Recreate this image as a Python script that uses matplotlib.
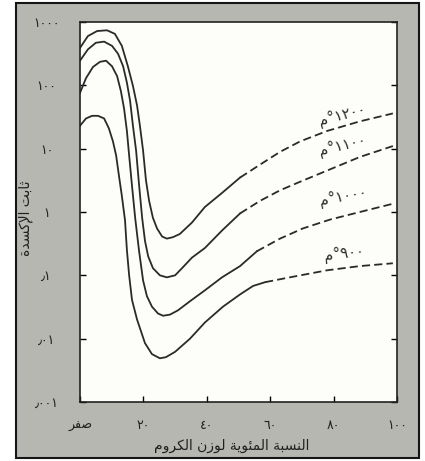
import numpy as np
import matplotlib
matplotlib.use('Agg')
import matplotlib.pyplot as plt
from matplotlib.patches import Rectangle

plt.rcParams['font.family'] = ['DejaVu Sans']

# Arabic presentation forms: (isolated, final, initial, medial)
FORMS = {
    'ا': (0xFE8D, 0xFE8E), 'أ': (0xFE83, 0xFE84), 'إ': (0xFE87, 0xFE88),
    'ب': (0xFE8F, 0xFE90, 0xFE91, 0xFE92), 'ة': (0xFE93, 0xFE94),
    'ت': (0xFE95, 0xFE96, 0xFE97, 0xFE98), 'ث': (0xFE99, 0xFE9A, 0xFE9B, 0xFE9C),
    'د': (0xFEA9, 0xFEAA), 'ر': (0xFEAD, 0xFEAE), 'ز': (0xFEAF, 0xFEB0),
    'س': (0xFEB1, 0xFEB2, 0xFEB3, 0xFEB4), 'ص': (0xFEB9, 0xFEBA, 0xFEBB, 0xFEBC),
    'ف': (0xFED1, 0xFED2, 0xFED3, 0xFED4), 'ك': (0xFED9, 0xFEDA, 0xFEDB, 0xFEDC),
    'ل': (0xFEDD, 0xFEDE, 0xFEDF, 0xFEE0), 'م': (0xFEE1, 0xFEE2, 0xFEE3, 0xFEE4),
    'ن': (0xFEE5, 0xFEE6, 0xFEE7, 0xFEE8), 'و': (0xFEED, 0xFEEE),
    'ي': (0xFEF1, 0xFEF2, 0xFEF3, 0xFEF4), 'ئ': (0xFE89, 0xFE8A, 0xFE8B, 0xFE8C),
}
LAM_ALEF = {'ا': (0xFEFB, 0xFEFC), 'أ': (0xFEF7, 0xFEF8), 'إ': (0xFEF9, 0xFEFA)}


def joins_next(c):
    return c in FORMS and len(FORMS[c]) == 4


def shape(s):
    # crude arabic shaping + reversal for matplotlib (no bidi support)
    out = []
    i = 0
    while i < len(s):
        c = s[i]
        prev = s[i - 1] if i > 0 else ''
        nxt = s[i + 1] if i + 1 < len(s) else ''
        if c not in FORMS:
            out.append(c)
            i += 1
            continue
        cp = joins_next(prev)
        if c == 'ل' and nxt in LAM_ALEF:
            out.append(chr(LAM_ALEF[nxt][1 if cp else 0]))
            i += 2
            continue
        cn = joins_next(c) and nxt in FORMS
        f = FORMS[c]
        if cp and cn:
            g = f[3]
        elif cp:
            g = f[1]
        elif cn:
            g = f[2]
        else:
            g = f[0]
        out.append(chr(g))
        i += 1
    return ''.join(reversed(out))


# data (x = % Cr by weight, y = oxidation constant)
x1200 = [0, 2.5, 5.4, 8.5, 11.0, 13.2, 15.1, 16.7, 18.0, 18.9, 19.9, 20.8, 21.8, 23.0, 24.3,
         25.9, 27.4, 29.3, 31.5, 35.3, 39.4, 44.8, 50.5, 56.8, 63.1, 69.4, 77.9, 88.3, 98.7]
y1200 = [390, 600, 720, 740, 650, 420, 200, 98, 48, 23, 9.3, 3.2, 1.5, 0.81, 0.55,
         0.41, 0.38, 0.40, 0.45, 0.68, 1.2, 2.0, 3.5, 5.6, 8.9, 13, 19, 27, 36]

x1100 = [0, 2.5, 5.0, 7.6, 10.1, 12.0, 13.6, 14.8, 15.8, 16.7, 17.7, 18.6, 19.6, 20.5, 21.5,
         23.0, 25.2, 27.4, 30.0, 32.2, 35.3, 39.4, 44.8, 50.5, 56.8, 63.1, 69.4, 77.9, 88.3, 98.7]
y1100 = [245, 370, 470, 490, 420, 315, 200, 110, 57, 23, 9.3, 2.8, 0.81, 0.35, 0.20,
         0.13, 0.10, 0.093, 0.10, 0.13, 0.19, 0.27, 0.51, 0.95, 1.5, 2.2, 3.0, 4.5, 7.4, 11]

x1000 = [0, 1.9, 4.1, 6.3, 8.2, 10.1, 11.7, 12.9, 13.9, 14.8, 15.5, 16.4, 17.4, 18.6, 19.9,
         21.1, 22.7, 24.6, 26.2, 28.4, 30.9, 34.7, 39.4, 44.8, 50.5, 55.8, 63.1, 70.3, 78.9, 88.3, 98.7]
y1000 = [76, 130, 195, 235, 245, 200, 140, 81, 43, 19, 7.8, 2.6, 0.81, 0.25, 0.083,
         0.047, 0.032, 0.025, 0.023, 0.024, 0.028, 0.039, 0.058, 0.093, 0.14, 0.24, 0.38, 0.55, 0.76, 1.0, 1.35]

x900 = [0, 1.9, 3.8, 5.7, 7.6, 9.1, 10.4, 11.4, 12.3, 13.2, 14.2, 14.8, 15.5, 16.4, 18.0,
        20.5, 22.7, 25.2, 27.1, 30.0, 34.7, 39.4, 45.1, 50.5, 54.6, 58.4, 66.2, 77.9, 88.3, 98.7]
y900 = [23, 30, 33, 33, 30, 21, 13, 7.8, 3.7, 1.8, 0.74, 0.25, 0.10, 0.041, 0.020,
        0.0085, 0.0057, 0.0049, 0.0051, 0.0062, 0.010, 0.018, 0.032, 0.050, 0.068, 0.078, 0.093, 0.12, 0.14, 0.155]

curves = [(x1200, y1200, 50.5), (x1100, y1100, 50.5), (x1000, y1000, 55.8), (x900, y900, 58.4)]

temp_labels = ['١٢٠٠', '١١٠٠', '١٠٠٠', '٩٠٠']
label_pos = [(83.5, 25), (83.5, 8.3), (83.5, 1.3), (83.5, 0.16)]
label_rot = [14, 13, 10, 6]

xticks = [0, 20, 40, 60, 80, 100]
xtick_labels = [shape('صفر'), '٢٠', '٤٠', '٦٠', '٨٠', '١٠٠']
yticks = [0.001, 0.01, 0.1, 1, 10, 100, 1000]
ytick_labels = ['٫٠٠١', '٫٠١', '٫١', '١', '١٠', '١٠٠', '١٠٠٠']

W, H = 425, 461
fig = plt.figure(figsize=(W / 100, H / 100), dpi=100, facecolor='white')

# grey card with black frame
fig.patches.append(Rectangle((16 / W, 3 / H), (419 - 16) / W, (458 - 3) / H,
                             transform=fig.transFigure, facecolor='#b6b7b0',
                             edgecolor='#151515', lw=1.5, zorder=-1))

ax = fig.add_axes([80 / W, (H - 402) / H, (397 - 80) / W, (402 - 22) / H])
ax.set_facecolor('#fdfdf9')
lc = '#2a2a2a'
for xs, ys, xt in curves:
    xs = np.array(xs)
    ys = np.array(ys)
    solid = xs <= xt
    dash = xs >= xt
    ax.plot(xs[solid], ys[solid], color=lc, lw=1.3)
    ax.plot(xs[dash], ys[dash], color=lc, lw=1.3, dashes=(4.5, 2.3))

for lab, (px, py), r in zip(temp_labels, label_pos, label_rot):
    ax.text(px, py, chr(0xFEE1) + '°' + lab, fontsize=10.5, color=lc,
            rotation=r, rotation_mode='anchor', ha='center', va='bottom')

ax.set_yscale('log')
ax.set_xlim(0, 100)
ax.set_ylim(1e-3, 1e3)
ax.set_xticks(xticks)
ax.set_xticklabels(xtick_labels, fontsize=9, color='#202020')
ax.set_yticks(yticks)
ax.set_yticklabels(ytick_labels, fontsize=9, color='#202020')
ax.yaxis.set_minor_locator(matplotlib.ticker.NullLocator())
ax.tick_params(axis='x', direction='in', length=4, width=1, pad=12, top=False)
ax.tick_params(axis='y', direction='in', length=4, width=1, pad=24, right=True)
for t in ax.get_yticklabels():
    t.set_horizontalalignment('center')
for s in ax.spines.values():
    s.set_linewidth(1.2)
    s.set_color('#222222')

fig.text(232 / W, (H - 446) / H, shape('النسبة المئوية لوزن الكروم'), fontsize=10,
         ha='center', va='center', color='#202020')
fig.text(26 / W, (H - 218) / H, shape('ثابت الإكسدة'), fontsize=10, rotation=90,
         ha='center', va='center', color='#202020')

fig.savefig('out.png', dpi=100, facecolor='white')
